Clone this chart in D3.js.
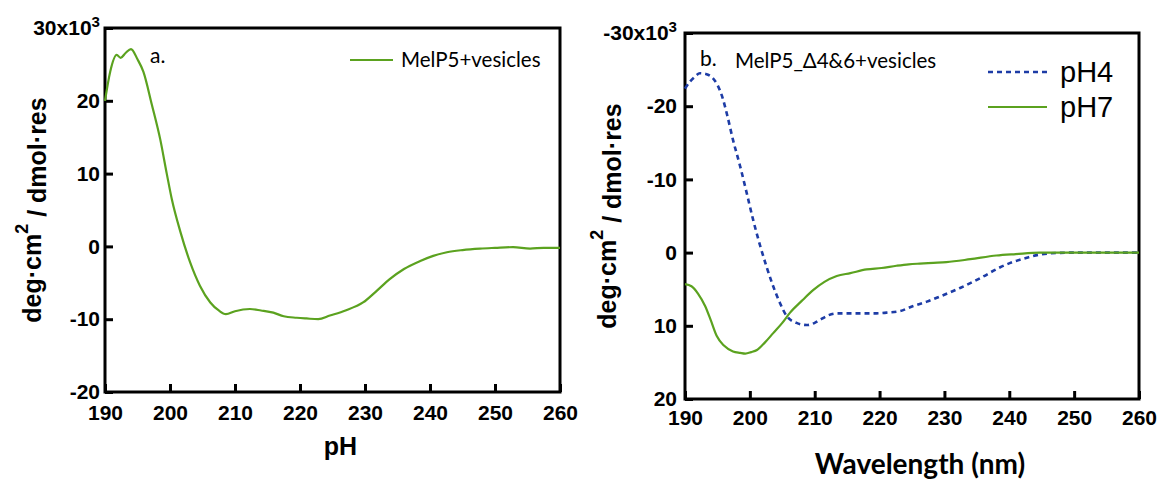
<!DOCTYPE html>
<html>
<head>
<meta charset="utf-8">
<script src="https://cdn.jsdelivr.net/npm/d3@7"></script>
<style>
  body { margin: 0; background: #fff; }
  svg { display: block; }
</style>
</head>
<body>
<svg id="chart" width="1161" height="479"></svg>
<script>
// wavelength ticks shared by both panels
const wavelengthTicks = [190, 200, 210, 220, 230, 240, 250, 260];

// panel a: MelP5 + vesicles  [wavelength, ellipticity x10^3]
const melP5Vesicles = [
  [190, 20.0], [190.8, 24.0], [191.8, 26.3], [192.4, 25.9], [193.2, 26.6],
  [194.0, 27.1], [195.0, 25.7], [195.9, 24.0], [197.2, 19.5], [198.5, 14.7],
  [199.5, 10.0], [200.3, 6.4], [201.6, 2.0], [203.1, -2.2], [204.6, -5.4],
  [206.2, -7.7], [207.5, -8.8], [208.6, -9.3], [210.0, -8.9], [212.3, -8.6],
  [214.0, -8.8], [215.9, -9.1], [217.5, -9.6], [219.5, -9.8], [221.0, -9.9],
  [222.8, -10.0], [224.6, -9.5], [227.0, -8.8], [229.7, -7.7], [231.8, -6.1],
  [233.8, -4.5], [236.0, -3.1], [238.5, -2.0], [240.5, -1.3], [242.6, -0.8],
  [245.0, -0.5], [247.7, -0.3], [250.0, -0.2], [252.8, -0.1], [255.4, -0.3],
  [257.5, -0.2], [260, -0.2]
];
const yTicksA = [-20, -10, 0, 10, 20, 30];

// panel b: MelP5_Δ4&6 + vesicles at two pH values
const pH4 = [
  [190, -22.4], [190.8, -23.4], [191.5, -24.0], [192.3, -24.5], [193.2, -24.4],
  [194.1, -24.0], [195.0, -22.9], [195.7, -21.4], [196.5, -18.8], [197.4, -15.4],
  [198.5, -11.8], [199.5, -8.2], [200.5, -4.5], [201.6, -0.9], [202.6, 2.0],
  [203.6, 4.6], [204.6, 6.8], [205.7, 8.7], [207.2, 9.6], [208.8, 9.9],
  [210.0, 9.6], [210.8, 9.2], [212.0, 8.6], [213.4, 8.3], [215.5, 8.3],
  [217.5, 8.3], [219.5, 8.3], [221.1, 8.2], [223.1, 8.0], [225.2, 7.3],
  [227.3, 6.7], [229.3, 6.0], [232.5, 4.8], [235.5, 3.5], [238.6, 2.0],
  [240.5, 1.3], [242.7, 0.7], [244.5, 0.3], [246.3, 0.1], [250, 0.0],
  [255, 0.0], [260, 0.0]
];
const pH7 = [
  [190, 4.3], [191, 4.6], [192, 5.6], [193.1, 7.3], [194, 9.3],
  [194.9, 11.4], [196, 12.7], [197.4, 13.5], [198.5, 13.7], [199.3, 13.8],
  [200.2, 13.6], [201.1, 13.3], [202.3, 12.3], [203.6, 11.0], [205, 9.6],
  [206.2, 8.2], [208, 6.6], [209.8, 5.1], [211.5, 4.0], [213.4, 3.2],
  [215.5, 2.8], [218, 2.3], [220.3, 2.1], [222.6, 1.8], [224.5, 1.6],
  [226.2, 1.5], [228.3, 1.4], [230.3, 1.3], [234, 0.9], [238, 0.4],
  [241, 0.2], [244.7, 0.0], [250, 0.0], [255, 0.0], [260, 0.0]
];
const yTicksB = [-30, -20, -10, 0, 10, 20];

const green = "#5ba21f";
const blue = "#1d3ca6";
const axisFont = "'Liberation Sans', Arial, sans-serif";
const textFont = "Lato, 'Open Sans', sans-serif";

const svg = d3.select("#chart");

const drawPanel = (opts) => {
  const { left, right, top, bottom, yDomain, yTicks, topTick, pad } = opts;

  const x = d3.scaleLinear().domain([190, 260]).range([left, right]);
  const y = d3.scaleLinear().domain(yDomain).range([bottom, top]);

  const g = svg.append("g");

  // plain hyphen for negatives, like the original
  const fmt = (d) => String(d);

  // x axis, ticks pointing inward
  const gx = g
    .append("g")
    .attr("transform", `translate(0,${bottom})`)
    .call(d3.axisBottom(x).tickValues(wavelengthTicks).tickFormat(fmt).tickSize(-8).tickPadding(opts.xPad));

  // y axis, ticks pointing inward
  const gy = g
    .append("g")
    .attr("transform", `translate(${left},0)`)
    .call(d3.axisLeft(y).tickValues(yTicks).tickFormat(fmt).tickSize(-8).tickPadding(pad));

  [gx, gy].forEach((a) => {
    a.select(".domain").remove();
    a.selectAll(".tick line").attr("stroke", "#000").attr("stroke-width", 3);
    a.selectAll(".tick text")
      .attr("fill", "#000")
      .attr("font-family", axisFont)
      .attr("font-weight", "bold")
      .attr("font-size", 21);
  });

  // top tick gets the x10^3 multiplier
  gy.selectAll(".tick text")
    .filter((d) => d === topTick)
    .text(null)
    .call((t) => {
      t.append("tspan").text(`${topTick}x10`);
      t.append("tspan").attr("dy", "-0.55em").attr("font-size", "0.72em").text("3");
    });

  // frame
  g.append("rect")
    .attr("x", left)
    .attr("y", top)
    .attr("width", right - left)
    .attr("height", bottom - top)
    .attr("fill", "none")
    .attr("stroke", "#000")
    .attr("stroke-width", 3);

  // y label
  const yl = g
    .append("text")
    .attr("transform", `translate(${opts.yLabelX},${(top + bottom) / 2}) rotate(-90)`)
    .attr("text-anchor", "middle")
    .attr("font-family", axisFont)
    .attr("font-weight", "bold")
    .attr("font-size", 25)
    .attr("fill", "#000");
  yl.append("tspan").text("deg·cm");
  yl.append("tspan").attr("dy", "-0.7em").attr("font-size", "0.72em").text("2");
  yl.append("tspan").attr("dy", "0.7em").text(" / dmol·res");

  const line = d3
    .line()
    .x((d) => x(d[0]))
    .y((d) => y(d[1]))
    .curve(d3.curveMonotoneX);

  return { g, x, y, line };
};

// ---- panel a ----
const a = drawPanel({
  left: 105, right: 560, top: 28, bottom: 392,
  yDomain: [-20, 30], yTicks: yTicksA, topTick: 30, pad: 5, xPad: 13,
  yLabelX: 41
});

a.g.append("path")
  .datum(melP5Vesicles)
  .attr("d", a.line)
  .attr("fill", "none")
  .attr("stroke", green)
  .attr("stroke-width", 2.2);

a.g.append("text")
  .attr("x", (105 + 560) / 2 + 8)
  .attr("y", 455)
  .attr("text-anchor", "middle")
  .attr("font-family", axisFont)
  .attr("font-weight", "bold")
  .attr("font-size", 25)
  .text("pH");

a.g.append("text")
  .attr("x", 150).attr("y", 63)
  .attr("font-family", textFont).attr("font-size", 21)
  .text("a.");

a.g.append("line")
  .attr("x1", 350).attr("x2", 393).attr("y1", 60).attr("y2", 60)
  .attr("stroke", green).attr("stroke-width", 2.2);
a.g.append("text")
  .attr("x", 401).attr("y", 67)
  .attr("font-family", textFont).attr("font-size", 20.5)
  .text("MelP5+vesicles");

// ---- panel b ----
const b = drawPanel({
  left: 685, right: 1139, top: 33, bottom: 399,
  // axis runs from -30 at top to 20 at bottom
  yDomain: [20, -30], yTicks: yTicksB, topTick: -30, pad: 8, xPad: 11,
  yLabelX: 616
});

b.g.append("path")
  .datum(pH4)
  .attr("d", b.line)
  .attr("fill", "none")
  .attr("stroke", blue)
  .attr("stroke-width", 2.6)
  .attr("stroke-dasharray", "5,4");

b.g.append("path")
  .datum(pH7)
  .attr("d", b.line)
  .attr("fill", "none")
  .attr("stroke", green)
  .attr("stroke-width", 2.2);

b.g.append("text")
  .attr("x", 920)
  .attr("y", 474)
  .attr("text-anchor", "middle")
  .attr("font-family", textFont)
  .attr("font-weight", "bold")
  .attr("font-size", 28)
  .text("Wavelength (nm)");

b.g.append("text")
  .attr("x", 700).attr("y", 66)
  .attr("font-family", textFont).attr("font-size", 21)
  .text("b.");
b.g.append("text")
  .attr("x", 735).attr("y", 68)
  .attr("font-family", textFont).attr("font-size", 20.5)
  .text("MelP5_Δ4&6+vesicles");

const legend = [
  { name: "pH4", color: blue, dash: "5,4", y: 72 },
  { name: "pH7", color: green, dash: null, y: 107 }
];
const lg = b.g.append("g")
  .selectAll("g")
  .data(legend)
  .join("g")
  .attr("transform", (d) => `translate(988,${d.y})`);
lg.append("line")
  .attr("x2", 59)
  .attr("stroke", (d) => d.color)
  .attr("stroke-width", (d) => (d.dash ? 2.6 : 2.2))
  .attr("stroke-dasharray", (d) => d.dash);
lg.append("text")
  .attr("x", 72).attr("y", 10)
  .attr("font-family", axisFont).attr("font-size", 29)
  .text((d) => d.name);
</script>
</body>
</html>
